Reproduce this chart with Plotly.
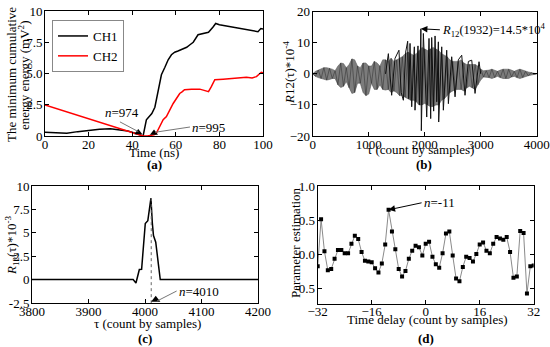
import plotly.graph_objects as go

FONT = "Liberation Serif"
TICKF = dict(family=FONT, size=13, color="black")

# ---------------- Panel (a) ----------------
a_ch1_t = [0, 5, 10, 15, 20, 25, 30, 35, 38, 41, 43, 45, 46.5, 48, 49, 50.4, 51, 52, 53.4, 55, 56.5, 58,
           59.5, 61, 62.6, 65, 66.5, 68, 70.2, 72.5, 75, 77, 78.3, 80, 83, 86, 89, 92.4, 95, 97.7, 99, 100]
a_ch1_e = [0.30, 0.25, 0.22, 0.35, 0.45, 0.55, 0.58, 0.50, 0.40, 0.25, 0.10, 0.0, 1.3, 1.6, 1.8, 2.3, 2.8,
           3.9, 4.9, 5.5, 6.1, 6.5, 6.7, 6.8, 6.9, 7.1, 7.3, 7.5, 8.1, 8.2, 8.3, 8.7, 9.0, 8.9, 8.8, 8.7,
           8.6, 8.5, 8.45, 8.35, 8.6, 8.55]
a_ch2_t = [0, 45, 47, 49, 50, 51, 52.7, 54.2, 55.7, 57.3, 58.8, 60.3, 61.8, 63, 64, 67.2, 71, 73, 75,
           76.3, 77.9, 81.7, 86.3, 92.4, 95, 97, 99.2, 100]
a_ch2_e = [2.48, 0.0, 0.0, 0.05, 0.1, 0.2, 0.75, 1.3, 1.55, 2.1, 2.6, 3.0, 3.4, 3.55, 3.7, 3.75, 3.75,
           3.65, 3.55, 3.95, 4.5, 4.55, 4.6, 4.7, 4.65, 4.75, 5.1, 5.05]
a_mark_t = [42.8, 50.0]
a_mark_e = [0.28, 0.25]

# ---------------- Panel (b) ----------------
b_env_x = list(range(0, 4001, 50))
b_env_up = [0, 0.8, 1.2, 1.5, 2.0, 2.0, 1.8, 1.5, 1.0, 2.5, 3.5, 3.3, 2.0, 3.0, 4.8, 4.5, 2.5, 2.0, 3.5,
            3.5, 2.5, 2.5, 4.0, 3.5, 2.5, 4.5, 4.5, 4.0, 5.0, 4.0, 4.5, 5.0, 5.5, 6.5, 7.0, 6.5, 6.0, 6.5,
            7.5, 8.5, 8.0, 7.5, 8.0, 8.5, 8.0, 7.5, 6.5, 6.0, 5.5, 4.5, 4.0, 4.0, 4.0, 4.5, 3.5, 3.0,
            3.0, 3.0, 3.0, 2.5, 1.5, 1.0, 1.0, 1.2, 1.5, 1.2, 0.8, 1.2, 1.5, 1.5, 1.5, 1.2, 0.8, 1.2, 1.5,
            1.2, 0.8, 0.6, 0.4, 0.2, 0]
b_env_lo = [0, -0.8, -1.2, -1.5, -1.8, -2.0, -1.8, -1.5, -1.5, -3.5, -4.4, -4.0, -2.5, -4.5, -6.3, -6.0,
            -3.0, -3.0, -6.0, -7.0, -6.5, -3.0, -5.0, -5.0, -3.5, -5.0, -5.2, -5.0, -6.0, -5.5, -6.0, -7.0,
            -7.0, -7.5, -8.0, -8.5, -8.5, -9, -10, -10, -9.5, -10, -10.5, -10.5, -10, -10, -8.5, -8.0,
            -7.0, -6.0, -5.5, -5.0, -5.0, -5.0, -5.5, -4.5, -4.0, -4.5, -5.0, -3.5, -2.0, -1.0, -1.0, -1.2,
            -1.5, -1.2, -0.8, -1.2, -1.5, -1.5, -1.5, -1.0, -0.8, -1.2, -1.5, -1.2, -0.8, -0.6, -0.4, -0.2, 0]
b_spike_x = [1300, 1351, 1410, 1470, 1540, 1580, 1619, 1660, 1696, 1715, 1738, 1768, 1815, 1827, 1880,
             1905, 1932, 1940, 1976, 2036, 2077, 2107, 2125, 2160, 2185, 2215, 2244, 2250, 2304, 2333,
             2393, 2423, 2482, 2542, 2600, 2661, 2720, 2780, 2840, 2899, 2970, 3000]
b_spike_y = [0, 6.5, -6.9, 5.0, 7.6, -6.0, -8.5, 7.0, 10.5, -8.0, 9.8, -10.6, 8.7, -11.7, 9.0, -10.0,
             14.5, -18.3, 13.0, -13.9, 11.4, -14.4, 11.7, -12, 12.2, -9, 10.3, -15.5, 8.7, -11.7, 7.6,
             -9.6, 5.5, -7.4, 4.5, 6.0, -6.9, 4.0, 4.4, -6.3, 3.9, 0]
b_zig_y = [u if i % 2 == 0 else l for i, (u, l) in enumerate(zip(b_env_up, b_env_lo))]

# ---------------- Panel (c) ----------------
c_x = [3800, 3979, 3984, 3988, 3990, 3994, 3997, 4000.5, 4005, 4008, 4010.5, 4013, 4015, 4019, 4022,
       4024, 4027, 4200]
c_y = [0, 0, -0.36, 0.5, 1.08, 1.1, 3.5, 6.0, 6.3, 7.5, 8.7, 6.0, 4.7, 4.0, 2.8, 1.5, 0, 0]

# ---------------- Panel (d) ----------------
d_x = list(range(-32, 33))
d_y = [-0.18, 0.51, 0.04, -0.24, -0.22, -0.07, 0.06, 0.06, 0.01, 0.01, 0.15, 0.27, 0.22, 0.03, -0.10,
       -0.11, -0.12, -0.21, -0.27, -0.14, 0.14, 0.65, 0.33, 0.07, -0.22, -0.33, -0.25, -0.07, 0.05, 0.12,
       0.10, -0.02, 0.15, 0.18, -0.04, -0.15, -0.20, 0.01, 0.30, 0.33, -0.02, -0.36, -0.40, -0.19, -0.04,
       -0.06, -0.11, 0.0, 0.14, 0.17, 0.05, 0.01, 0.15, 0.25, 0.23, 0.21, 0.25, 0.03, -0.35, -0.33, 0.34,
       0.31, -0.58, -0.18, -0.17]

fig = go.Figure()

# (a)
fig.add_trace(go.Scatter(x=a_ch1_t, y=a_ch1_e, mode="lines", name="CH1",
                         line=dict(color="black", width=1.5), xaxis="x", yaxis="y"))
fig.add_trace(go.Scatter(x=a_ch2_t, y=a_ch2_e, mode="lines", name="CH2",
                         line=dict(color="red", width=1.5), xaxis="x", yaxis="y"))
fig.add_trace(go.Scatter(x=a_mark_t, y=a_mark_e, mode="markers", showlegend=False,
                         marker=dict(symbol="triangle-up", size=7, color="black"),
                         xaxis="x", yaxis="y"))

# (b)
fig.add_trace(go.Scatter(x=b_env_x, y=b_env_up, mode="lines", showlegend=False,
                         line=dict(color="#666666", width=0.6), xaxis="x2", yaxis="y2"))
fig.add_trace(go.Scatter(x=b_env_x, y=b_env_lo, mode="lines", showlegend=False, fill="tonexty",
                         fillcolor="#7c7c7c", line=dict(color="#555555", width=0.6),
                         xaxis="x2", yaxis="y2"))
fig.add_trace(go.Scatter(x=b_env_x, y=b_zig_y, mode="lines", showlegend=False,
                         line=dict(color="#2a2a2a", width=0.5), xaxis="x2", yaxis="y2"))
fig.add_trace(go.Scatter(x=b_spike_x, y=b_spike_y, mode="lines", showlegend=False,
                         line=dict(color="#111111", width=1), xaxis="x2", yaxis="y2"))

# (c)
fig.add_trace(go.Scatter(x=c_x, y=c_y, mode="lines", showlegend=False,
                         line=dict(color="black", width=1.5), xaxis="x3", yaxis="y3"))
fig.add_trace(go.Scatter(x=[4011, 4011], y=[8.7, -2.5], mode="lines", showlegend=False,
                         line=dict(color="#666666", width=1, dash="dot"), xaxis="x3", yaxis="y3"))
fig.add_trace(go.Scatter(x=[4019], y=[-2.15], mode="markers", showlegend=False, cliponaxis=False,
                         marker=dict(symbol="triangle-up", size=8, color="black"),
                         xaxis="x3", yaxis="y3"))

# (d)
fig.add_trace(go.Scatter(x=d_x, y=d_y, mode="lines+markers", showlegend=False,
                         line=dict(color="#8a8a8a", width=1),
                         marker=dict(symbol="square", size=4, color="black"),
                         xaxis="x4", yaxis="y4"))

W, H = 550, 347


def dom_x(a, b):
    return [a / W, b / W]


def dom_y(top, bot):
    return [1 - bot / H, 1 - top / H]


ax_common = dict(showline=True, linecolor="black", linewidth=1, mirror="allticks", ticks="inside",
                 ticklen=4, tickcolor="black", showgrid=False, zeroline=False, tickfont=TICKF,
                 automargin=False)
xa = dict(ax_common, ticklabelstandoff=-4)
ya = dict(ax_common, ticklabelstandoff=-1)

fig.update_layout(
    template="none",
    width=W, height=H, margin=dict(l=0, r=0, t=0, b=0, pad=0),
    paper_bgcolor="white", plot_bgcolor="white",
    font=dict(family=FONT, size=13, color="black"),
    xaxis=dict(domain=dom_x(45, 263), range=[0, 100], tickvals=[0, 20, 40, 60, 80, 100],
               anchor="y", **xa),
    yaxis=dict(domain=dom_y(11, 136), range=[0, 10], tickvals=[0, 2.5, 5, 7.5, 10],
               ticktext=["0", "2.5", "5.0", "7.5", "10"], anchor="x", **ya),
    xaxis2=dict(domain=dom_x(312.7, 536.7), range=[0, 4000], tickvals=[0, 1000, 2000, 3000, 4000],
                anchor="y2", **xa),
    yaxis2=dict(domain=dom_y(11.7, 136), range=[-20, 20], tickvals=[-20, -10, 0, 10, 20],
                anchor="x2", **ya),
    xaxis3=dict(domain=dom_x(32, 258), range=[3800, 4200], tickvals=[3800, 3900, 4000, 4100, 4200],
                anchor="y3", **xa),
    yaxis3=dict(domain=dom_y(186, 303), range=[-2.5, 10], tickvals=[-2.5, 0, 2.5, 5, 7.5, 10],
                ticktext=["-2.5", "0", "2.5", "5", "7.5", "10"], anchor="x3", **ya),
    xaxis4=dict(domain=dom_x(317.7, 533.7), range=[-32, 32], tickvals=[-32, -16, 0, 16, 32],
                anchor="y4", **xa),
    yaxis4=dict(domain=dom_y(186, 303.7), range=[-0.73, 1.0], tickvals=[-0.5, 0, 0.5, 1.0],
                ticktext=["-0.5", "0.0", "0.5", "1.0"], anchor="x4", **ya),
    legend=dict(x=52 / W, y=1 - 20 / H, xanchor="left", yanchor="top", bgcolor="white",
                bordercolor="#888888", borderwidth=1, font=dict(family=FONT, size=13),
                itemwidth=30, tracegroupgap=0, traceorder="normal"),
)

ann = []


def pa(text, x, y, size=13, angle=0, bold=False):
    if bold:
        text = "<b>" + text + "</b>"
    ann.append(dict(text=text, xref="paper", yref="paper", x=x / W, y=1 - y / H, showarrow=False,
                    textangle=angle, font=dict(family=FONT, size=size, color="black"),
                    xanchor="center", yanchor="middle"))


# axis titles
pa("The minimum cumulative", 11, 75, angle=-90)
pa("energy energy (mV<sup>2</sup>)", 24, 75, angle=-90)
pa("Time (ns)", 154, 152)
pa("<i>R</i>12(τ)*10<sup>-4</sup>", 289, 73, angle=-90)
pa("τ (count by samples)", 420, 149)
pa("<i>R</i><sub>12</sub>(τ)*10<sup>-3</sup>", 12, 246, angle=-90)
pa("τ (count by samples)", 147, 323)
pa("Parameter estimation", 295, 243, angle=-90)
pa("Time delay (count by samples)", 427, 319)
# panel labels
pa("(a)", 154, 164, bold=True)
pa("(b)", 424, 164, bold=True)
pa("(c)", 145, 338, bold=True)
pa("(d)", 426, 338, bold=True)

# data annotations
ann.append(dict(text="<i>n</i>=974", x=42.8, y=0.35, xref="x", yref="y", axref="x", ayref="y",
                ax=26.6, ay=1.85, xanchor="left", showarrow=True, arrowhead=0, arrowcolor="#777777",
                arrowwidth=1, font=dict(family=FONT, size=13)))
ann.append(dict(text="<i>n</i>=995", x=50.5, y=0.3, xref="x", yref="y", axref="x", ayref="y",
                ax=66.5, ay=0.72, xanchor="left", showarrow=True, arrowhead=0, arrowcolor="#777777",
                arrowwidth=1, font=dict(family=FONT, size=13)))
ann.append(dict(text="<i>R</i><sub>12</sub>(1932)=14.5*10<sup>4</sup>", x=1932, y=14.5, xref="x2",
                yref="y2", ax=19, ay=1, xanchor="left", showarrow=True, arrowhead=2, arrowsize=1.3,
                arrowwidth=1, arrowcolor="black", font=dict(family=FONT, size=12.5)))
ann.append(dict(text="<i>n</i>=4010", x=4021, y=-2.3, xref="x3", yref="y3", axref="x3", ayref="y3",
                ax=4056, ay=-1.22, xanchor="left", showarrow=True, arrowhead=0, arrowcolor="#777777",
                arrowwidth=1, font=dict(family=FONT, size=13)))
ann.append(dict(text="<i>n</i>=-11", x=-11, y=0.65, xref="x4", yref="y4", ax=33, ay=-7,
                xanchor="left", showarrow=True, arrowhead=2, arrowsize=1.3, arrowwidth=1,
                arrowcolor="black", font=dict(family=FONT, size=13)))

fig.update_layout(annotations=ann)

fig.write_html("out.html", config={"displayModeBar": False},
               post_script="document.body.style.margin='0';document.body.style.overflow='hidden';")
